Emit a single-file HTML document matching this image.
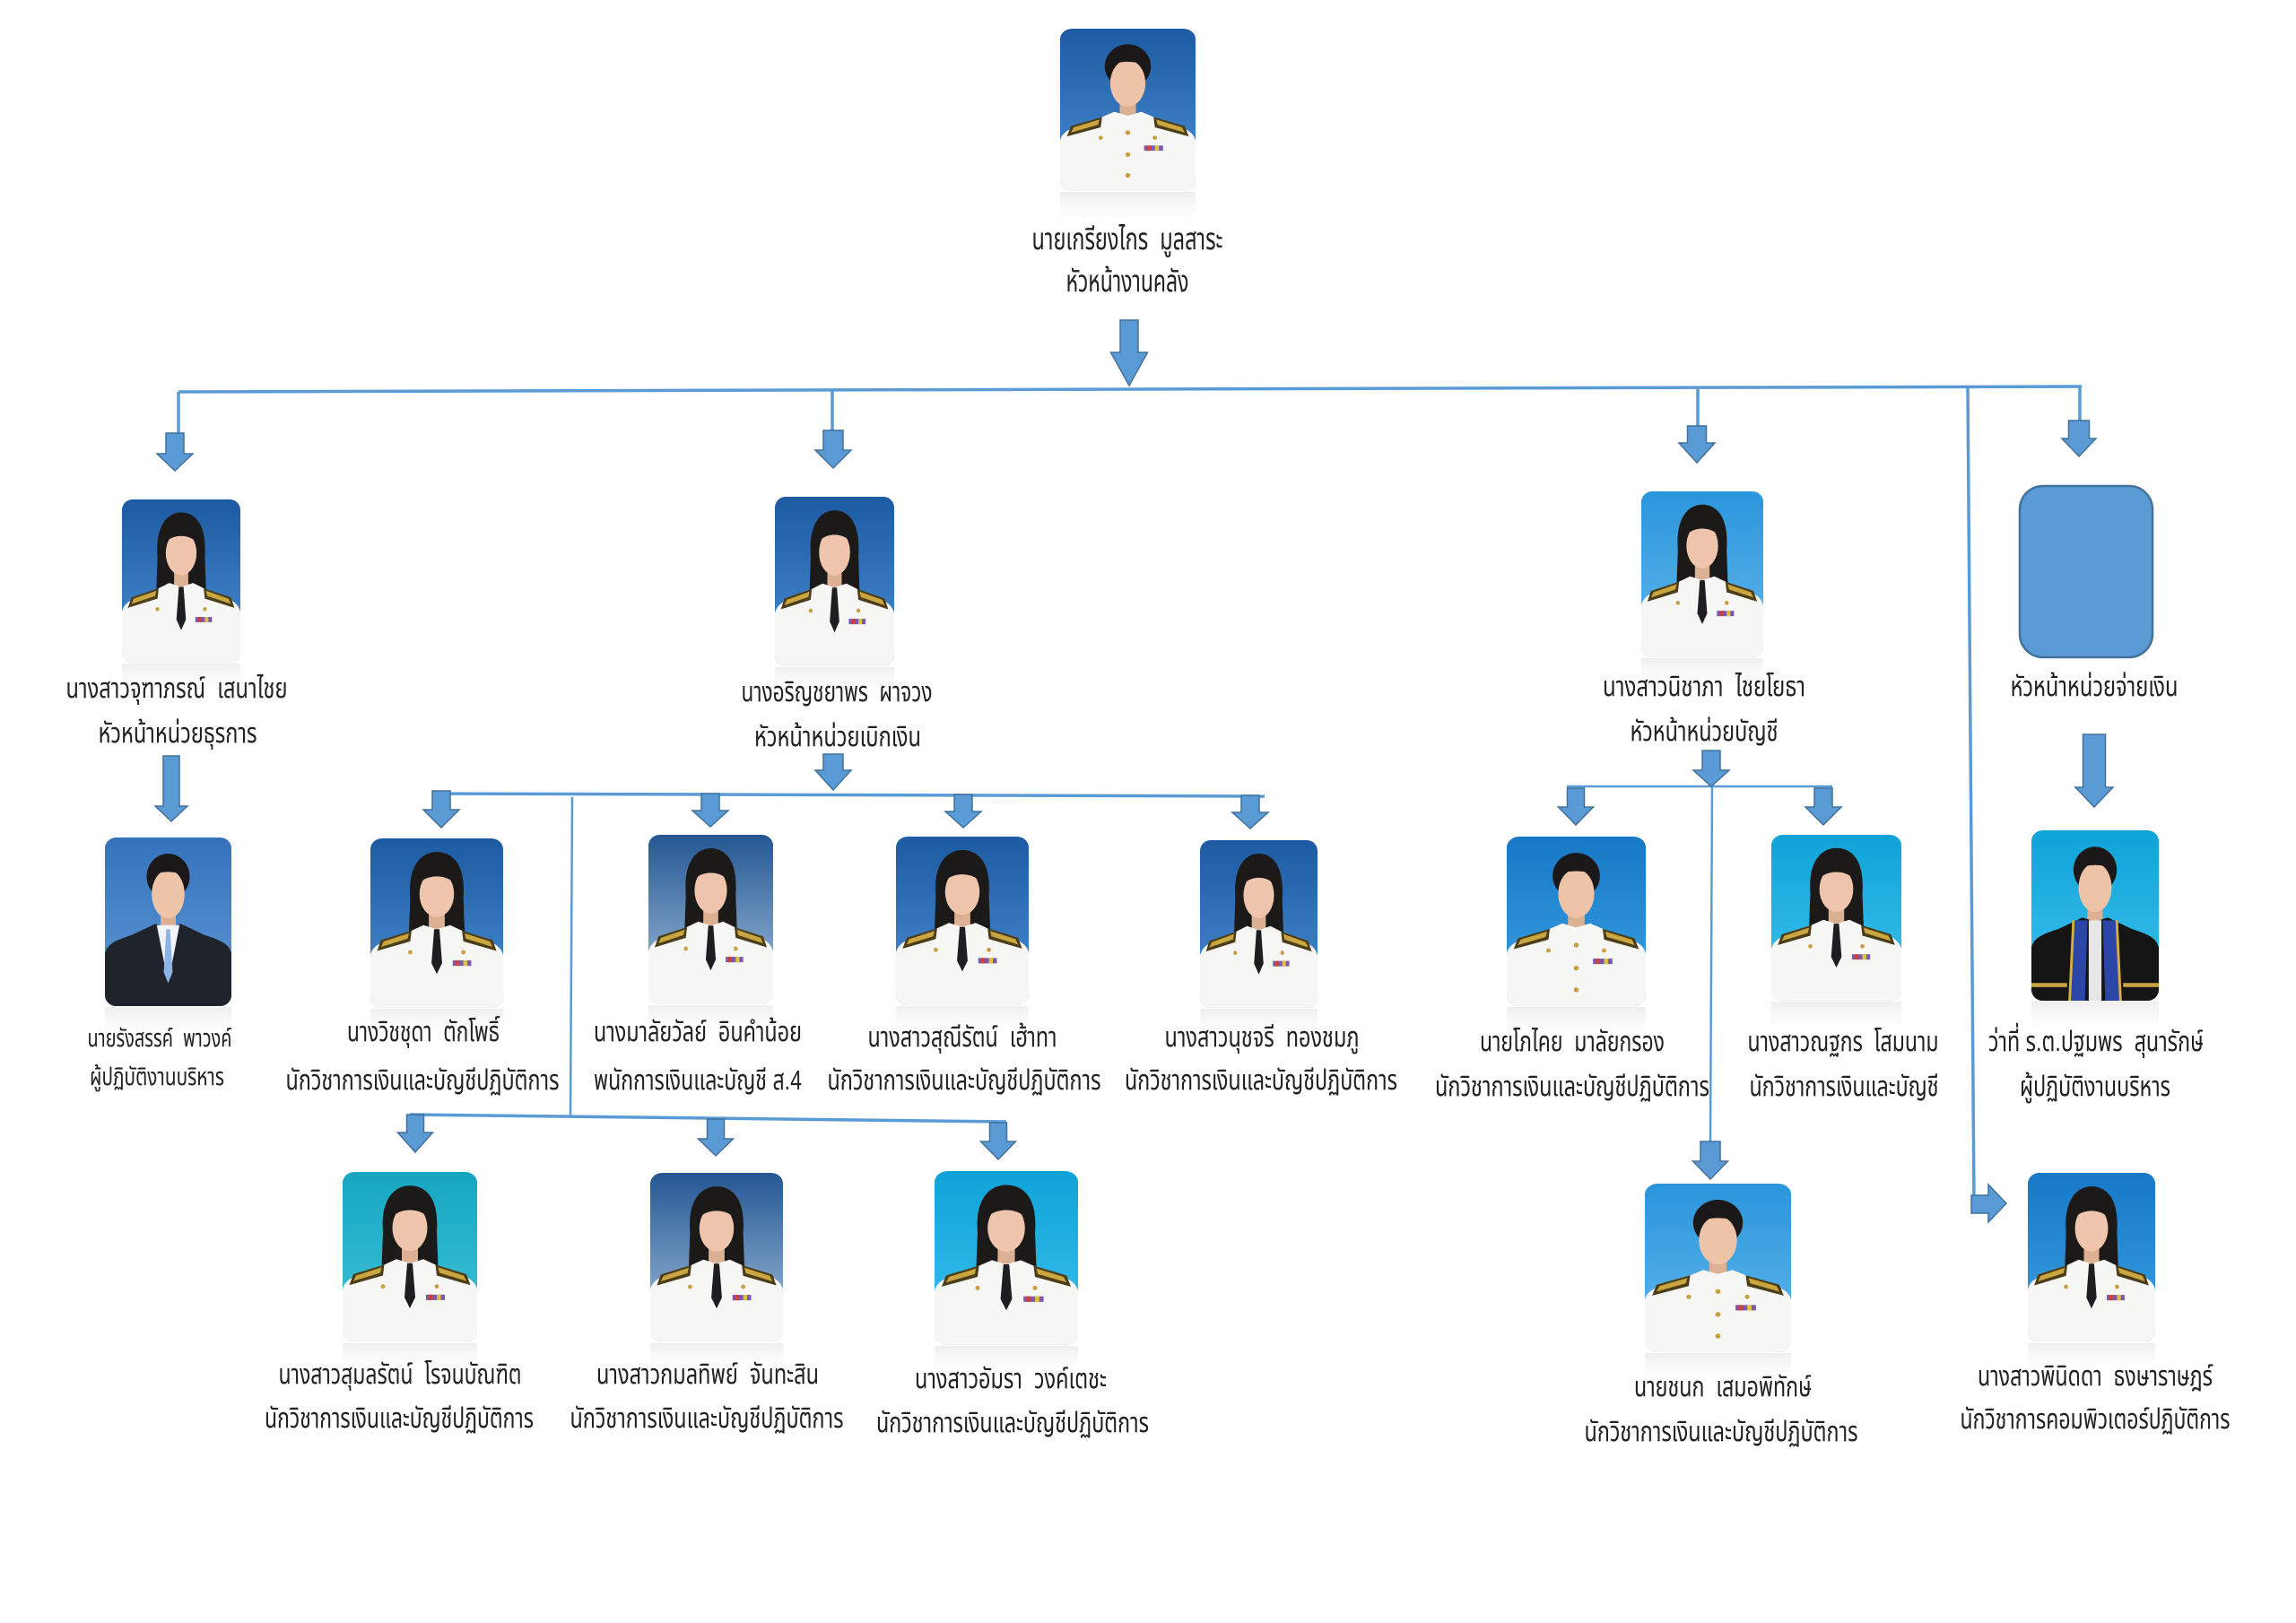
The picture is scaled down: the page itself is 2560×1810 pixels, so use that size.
<!DOCTYPE html>
<html lang="th">
<head>
<meta charset="utf-8">
<title>Org chart</title>
<style>
  html,body{margin:0;padding:0;background:#ffffff;}
  body{width:2560px;height:1810px;overflow:hidden;}
  svg{display:block;}
  .t{font-family:"Liberation Sans","Noto Sans Thai","Noto Sans Thai UI","Loma","Garuda","Tlwg Typo","DejaVu Sans",sans-serif;fill:#222;}
</style>
</head>
<body>
<svg width="2560" height="1810" viewBox="0 0 2560 1810" xmlns="http://www.w3.org/2000/svg" xmlns:xlink="http://www.w3.org/1999/xlink">
<defs>
  <clipPath id="pc"><rect x="0" y="0" width="100" height="125" rx="9" ry="8"/></clipPath>
  <linearGradient id="gA" x1="0" y1="0" x2="0" y2="1"><stop offset="0" stop-color="#1d5aa2"/><stop offset="1" stop-color="#4a8fd3"/></linearGradient>
  <linearGradient id="gB" x1="0" y1="0" x2="0" y2="1"><stop offset="0" stop-color="#2b95dc"/><stop offset="1" stop-color="#62b8ec"/></linearGradient>
  <linearGradient id="gC" x1="0" y1="0" x2="0" y2="1"><stop offset="0" stop-color="#10a3d8"/><stop offset="1" stop-color="#3cc2ee"/></linearGradient>
  <linearGradient id="gD" x1="0" y1="0" x2="0" y2="1"><stop offset="0" stop-color="#16a6c2"/><stop offset="1" stop-color="#40c4d8"/></linearGradient>
  <linearGradient id="gE" x1="0" y1="0" x2="0" y2="1"><stop offset="0" stop-color="#245792"/><stop offset="1" stop-color="#a8c4e0"/></linearGradient>
  <linearGradient id="gF" x1="0" y1="0" x2="0" y2="1"><stop offset="0" stop-color="#3672bc"/><stop offset="1" stop-color="#5e9ad6"/></linearGradient>
  <linearGradient id="gG" x1="0" y1="0" x2="0" y2="1"><stop offset="0" stop-color="#1878c6"/><stop offset="1" stop-color="#3aa2e4"/></linearGradient>
  <linearGradient id="refl" x1="0" y1="0" x2="0" y2="1"><stop offset="0" stop-color="#cfcfcf" stop-opacity="0.35"/><stop offset="1" stop-color="#ffffff" stop-opacity="0"/></linearGradient>

  <g id="headM">
    <rect x="44" y="52" width="12" height="18" fill="#dcb092"/>
    <ellipse cx="50" cy="29" rx="17" ry="17" fill="#1a1818"/>
    <ellipse cx="50" cy="42" rx="13" ry="18" fill="#eec4a8"/>
    <path d="M36,30 C38,18 62,18 64,30 C60,24 40,24 36,30 Z" fill="#1a1818"/>
  </g>
  <g id="headF">
    <path d="M30,44 C28,18 40,10 50,10 C61,10 72,18 70,44 L71,70 L29,70 Z" fill="#1c1919"/>
    <rect x="44" y="52" width="12" height="18" fill="#dcb092"/>
    <ellipse cx="50" cy="41" rx="13" ry="17" fill="#efc6ad"/>
    <path d="M36,34 C38,20 62,20 64,34 C58,26 42,26 36,34 Z" fill="#1c1919"/>
  </g>
  <g id="body">
    <path d="M0,125 L0,86 C2,78 10,76 22,72 L40,64 L50,67 L60,64 L78,72 C90,76 98,78 100,86 L100,125 Z" fill="#f6f6f4"/>
    <path d="M5,83 L8,75 L31,68 L30,76 Z" fill="#4b3d18"/>
    <path d="M95,83 L92,75 L69,68 L70,76 Z" fill="#4b3d18"/>
    <path d="M8,80 L10,76 L29,70 L28,74 Z" fill="#c9a640"/>
    <path d="M92,80 L90,76 L71,70 L72,74 Z" fill="#c9a640"/>
    <rect x="62" y="90" width="14" height="4" fill="#7a5ab0"/>
    <rect x="64" y="90" width="3" height="4" fill="#d04040"/>
    <rect x="70" y="90" width="3" height="4" fill="#e0c040"/>
    <circle cx="30" cy="84" r="1.6" fill="#c8a040"/>
    <circle cx="70" cy="84" r="1.6" fill="#c8a040"/>
  </g>
  <g id="tie"><path d="M48,67 L52,67 L54,92 L50,100 L46,92 Z" fill="#1e1e22"/></g>
  <g id="btn"><circle cx="50" cy="80" r="1.8" fill="#c8a040"/><circle cx="50" cy="97" r="1.8" fill="#c8a040"/><circle cx="50" cy="113" r="1.8" fill="#c8a040"/></g>
  <g id="suit">
    <path d="M0,125 L0,86 C2,78 10,76 22,72 L40,64 L50,67 L60,64 L78,72 C90,76 98,78 100,86 L100,125 Z" fill="#1f232b"/>
    <path d="M41,65 L59,65 L50,108 Z" fill="#f2f4f8"/>
    <path d="M48.5,68 L51.5,68 L53.5,100 L50,108 L46.5,100 Z" fill="#8cb4e6"/>
  </g>
  <g id="gown">
    <path d="M0,125 L0,86 C2,78 10,76 22,72 L40,64 L50,67 L60,64 L78,72 C90,76 98,78 100,86 L100,125 Z" fill="#151515"/>
    <rect x="45" y="66" width="10" height="59" fill="#e6e6e6"/>
    <path d="M34,66 L44,66 L42,125 L30,125 Z" fill="#2c46a8"/>
    <path d="M66,66 L56,66 L58,125 L70,125 Z" fill="#2c46a8"/>
    <path d="M32,66 L34,66 L31,125 L29,125 Z" fill="#d8b040"/>
    <path d="M68,66 L66,66 L69,125 L71,125 Z" fill="#d8b040"/>
    <rect x="0" y="112" width="28" height="3" fill="#c9a640"/>
    <rect x="72" y="112" width="28" height="3" fill="#c9a640"/>
  </g>
</defs>

<rect x="0" y="0" width="2560" height="1810" fill="#ffffff"/>

<!-- ============ CONNECTOR LINES ============ -->
<g stroke="#5B9BD5" stroke-width="3.5" fill="none" stroke-linecap="butt">
  <path d="M199,437 L2321,431"/>
  <path d="M199,437 L199,484"/>
  <path d="M928,435 L928,481"/>
  <path d="M1893,433 L1893,476"/>
  <path d="M2319,431 L2319,470"/>
  <path d="M2194,432 L2201,1343"/>
  <path d="M482,885 L1410,888"/>
  <path d="M457,1243 L1122,1251"/>
</g>
<g stroke="#5B9BD5" stroke-width="2.5" fill="none">
  <path d="M638,889 L636,1246"/>
  <path d="M1747,877 L2043,877"/>
  <path d="M1909,877 L1907,1274"/>
</g>

<!-- ============ ARROWS ============ -->
<g fill="#5B9BD5" stroke="#41719C" stroke-width="1.5" stroke-linejoin="miter">
  <polygon points="1249,357 1269,357 1269,393 1279.5,393 1259,430 1238.5,393 1249,393"/>
  <polygon points="185,483 205,483 205,506 215,506 195,525 175,506 185,506"/>
  <polygon points="918,480 940,480 940,502 949,502 929,522 909,502 918,502"/>
  <polygon points="1881.5,475 1902.5,475 1902.5,494 1912,494 1892,516 1872,494 1881.5,494"/>
  <polygon points="2306.5,469 2329.5,469 2329.5,489 2337,489 2318,509 2299,489 2306.5,489"/>
  <polygon points="182,843 200,843 200,899 209,899 191,916 173,899 182,899"/>
  <polygon points="918,841 940,841 940,859 949,859 929,881 909,859 918,859"/>
  <polygon points="482,882 502,882 502,903 512,903 492,923 472,903 482,903"/>
  <polygon points="782,885 802,885 802,904 812,904 792,922 772,904 782,904"/>
  <polygon points="1064,886 1084,886 1084,905 1094,905 1074,923 1054,905 1064,905"/>
  <polygon points="1384,887 1404,887 1404,906 1414,906 1394,924 1374,906 1384,906"/>
  <polygon points="453.5,1243 472.5,1243 472.5,1263 482.5,1263 463,1285 443.5,1263 453.5,1263"/>
  <polygon points="788.5,1248 807.5,1248 807.5,1270 817.5,1270 798,1289 778.5,1270 788.5,1270"/>
  <polygon points="1103.5,1252 1122.5,1252 1122.5,1273 1132.5,1273 1113,1293 1093.5,1273 1103.5,1273"/>
  <polygon points="1898,837 1918,837 1918,859 1928,859 1908,877 1888,859 1898,859"/>
  <polygon points="1747.5,879 1766.5,879 1766.5,900 1776.5,900 1757,920 1737.5,900 1747.5,900"/>
  <polygon points="2023,879 2043,879 2043,900 2053,900 2033,920 2013,900 2023,900"/>
  <polygon points="1896,1273 1918,1273 1918,1295 1926.5,1295 1907,1315 1887.5,1295 1896,1295"/>
  <polygon points="2322.5,819 2347.5,819 2347.5,878 2356,878 2335,900 2314,878 2322.5,878"/>
  <polygon points="2198,1333 2217,1333 2217,1321 2237,1342 2217,1363 2217,1353 2198,1353"/>
</g>

<!-- ============ REFLECTIONS ============ -->
<g fill="url(#refl)">
  <rect x="1182" y="214" width="151" height="40"/>
  <rect x="136" y="740" width="132" height="36"/>
  <rect x="864" y="744" width="133" height="36"/>
  <rect x="1830" y="734" width="136" height="36"/>
  <rect x="117" y="1123" width="141" height="40"/>
  <rect x="413" y="1125" width="148" height="36"/>
  <rect x="723" y="1121" width="139" height="36"/>
  <rect x="999" y="1122" width="148" height="36"/>
  <rect x="1338" y="1125" width="131" height="36"/>
  <rect x="1680" y="1123" width="155" height="40"/>
  <rect x="1975" y="1117" width="145" height="40"/>
  <rect x="2265" y="1117" width="142" height="40"/>
  <rect x="382" y="1498" width="150" height="36"/>
  <rect x="725" y="1498" width="148" height="36"/>
  <rect x="1042" y="1501" width="160" height="36"/>
  <rect x="1834" y="1509" width="163" height="40"/>
  <rect x="2261" y="1498" width="142" height="36"/>
</g>

<!-- ============ PHOTOS ============ -->
<g transform="translate(1182,32) scale(1.51,1.448)"><g clip-path="url(#pc)"><rect width="100" height="125" fill="url(#gA)"/><use href="#headM"/><use href="#body"/><use href="#btn"/></g></g>
<g transform="translate(136,557) scale(1.32,1.456)"><g clip-path="url(#pc)"><rect width="100" height="125" fill="url(#gA)"/><use href="#headF"/><use href="#body"/><use href="#tie"/></g></g>
<g transform="translate(864,554) scale(1.33,1.512)"><g clip-path="url(#pc)"><rect width="100" height="125" fill="url(#gA)"/><use href="#headF"/><use href="#body"/><use href="#tie"/></g></g>
<g transform="translate(1830,548) scale(1.36,1.48)"><g clip-path="url(#pc)"><rect width="100" height="125" fill="url(#gB)"/><use href="#headF"/><use href="#body"/><use href="#tie"/></g></g>
<rect x="2252" y="542" width="148" height="191" rx="26" ry="26" fill="#5B9BD5" stroke="#41719C" stroke-width="2.5"/>
<g transform="translate(117,934) scale(1.41,1.504)"><g clip-path="url(#pc)"><rect width="100" height="125" fill="url(#gF)"/><use href="#headM"/><use href="#suit"/></g></g>
<g transform="translate(413,935) scale(1.48,1.512)"><g clip-path="url(#pc)"><rect width="100" height="125" fill="url(#gA)"/><use href="#headF"/><use href="#body"/><use href="#tie"/></g></g>
<g transform="translate(723,931) scale(1.39,1.512)"><g clip-path="url(#pc)"><rect width="100" height="125" fill="url(#gE)"/><use href="#headF"/><use href="#body"/><use href="#tie"/></g></g>
<g transform="translate(999,933) scale(1.48,1.504)"><g clip-path="url(#pc)"><rect width="100" height="125" fill="url(#gA)"/><use href="#headF"/><use href="#body"/><use href="#tie"/></g></g>
<g transform="translate(1338,937) scale(1.31,1.496)"><g clip-path="url(#pc)"><rect width="100" height="125" fill="url(#gA)"/><use href="#headF"/><use href="#body"/><use href="#tie"/></g></g>
<g transform="translate(1680,933) scale(1.55,1.512)"><g clip-path="url(#pc)"><rect width="100" height="125" fill="url(#gG)"/><use href="#headM"/><use href="#body"/><use href="#btn"/></g></g>
<g transform="translate(1975,931) scale(1.45,1.48)"><g clip-path="url(#pc)"><rect width="100" height="125" fill="url(#gC)"/><use href="#headF"/><use href="#body"/><use href="#tie"/></g></g>
<g transform="translate(2265,926) scale(1.42,1.52)"><g clip-path="url(#pc)"><rect width="100" height="125" fill="url(#gC)"/><use href="#headM"/><use href="#gown"/></g></g>
<g transform="translate(382,1307) scale(1.5,1.52)"><g clip-path="url(#pc)"><rect width="100" height="125" fill="url(#gD)"/><use href="#headF"/><use href="#body"/><use href="#tie"/></g></g>
<g transform="translate(725,1308) scale(1.48,1.512)"><g clip-path="url(#pc)"><rect width="100" height="125" fill="url(#gE)"/><use href="#headF"/><use href="#body"/><use href="#tie"/></g></g>
<g transform="translate(1042,1306) scale(1.6,1.552)"><g clip-path="url(#pc)"><rect width="100" height="125" fill="url(#gC)"/><use href="#headF"/><use href="#body"/><use href="#tie"/></g></g>
<g transform="translate(1834,1320) scale(1.63,1.504)"><g clip-path="url(#pc)"><rect width="100" height="125" fill="url(#gB)"/><use href="#headM"/><use href="#body"/><use href="#btn"/></g></g>
<g transform="translate(2261,1308) scale(1.42,1.512)"><g clip-path="url(#pc)"><rect width="100" height="125" fill="url(#gG)"/><use href="#headF"/><use href="#body"/><use href="#tie"/></g></g>

<!-- ============ TEXT ============ -->
<g class="t" text-anchor="middle">
  <text x="1257" y="278" font-size="34" textLength="213" lengthAdjust="spacingAndGlyphs">นายเกรียงไกร &#160;มูลสาระ</text>
  <text x="1257" y="325" font-size="34" textLength="137" lengthAdjust="spacingAndGlyphs">หัวหน้างานคลัง</text>

  <text x="197" y="778" font-size="31" textLength="247" lengthAdjust="spacingAndGlyphs">นางสาวจุฑาภรณ์ &#160;เสนาไชย</text>
  <text x="198" y="828" font-size="31" textLength="177" lengthAdjust="spacingAndGlyphs">หัวหน้าหน่วยธุรการ</text>
  <text x="933" y="782" font-size="31" textLength="213" lengthAdjust="spacingAndGlyphs">นางอริญชยาพร &#160;ผาจวง</text>
  <text x="934" y="832" font-size="31" textLength="186" lengthAdjust="spacingAndGlyphs">หัวหน้าหน่วยเบิกเงิน</text>
  <text x="1900" y="776" font-size="31" textLength="226" lengthAdjust="spacingAndGlyphs">นางสาวนิชาภา &#160;ไชยโยธา</text>
  <text x="1900" y="826" font-size="31" textLength="165" lengthAdjust="spacingAndGlyphs">หัวหน้าหน่วยบัญชี</text>
  <text x="2335" y="776" font-size="31" textLength="187" lengthAdjust="spacingAndGlyphs">หัวหน้าหน่วยจ่ายเงิน</text>

  <text x="178" y="1167" font-size="28" textLength="161" lengthAdjust="spacingAndGlyphs">นายรังสรรค์ &#160;พาวงค์</text>
  <text x="175" y="1210" font-size="28" textLength="150" lengthAdjust="spacingAndGlyphs">ผู้ปฏิบัติงานบริหาร</text>
  <text x="472" y="1161" font-size="31" textLength="170" lengthAdjust="spacingAndGlyphs">นางวิชชุดา &#160;ตักโพธิ์</text>
  <text x="471" y="1215" font-size="31" textLength="305" lengthAdjust="spacingAndGlyphs">นักวิชาการเงินและบัญชีปฏิบัติการ</text>
  <text x="778" y="1161" font-size="31" textLength="232" lengthAdjust="spacingAndGlyphs">นางมาลัยวัลย์ &#160;อินคำน้อย</text>
  <text x="778" y="1215" font-size="31" textLength="232" lengthAdjust="spacingAndGlyphs">พนักการเงินและบัญชี ส.4</text>
  <text x="1073" y="1167" font-size="31" textLength="211" lengthAdjust="spacingAndGlyphs">นางสาวสุณีรัตน์ &#160;เฮ้าทา</text>
  <text x="1075" y="1215" font-size="31" textLength="305" lengthAdjust="spacingAndGlyphs">นักวิชาการเงินและบัญชีปฏิบัติการ</text>
  <text x="1407" y="1167" font-size="31" textLength="217" lengthAdjust="spacingAndGlyphs">นางสาวนุชจรี &#160;ทองชมภู</text>
  <text x="1406" y="1215" font-size="31" textLength="304" lengthAdjust="spacingAndGlyphs">นักวิชาการเงินและบัญชีปฏิบัติการ</text>
  <text x="1753" y="1172" font-size="31" textLength="206" lengthAdjust="spacingAndGlyphs">นายโภไคย &#160;มาลัยกรอง</text>
  <text x="1753" y="1222" font-size="31" textLength="306" lengthAdjust="spacingAndGlyphs">นักวิชาการเงินและบัญชีปฏิบัติการ</text>
  <text x="2055" y="1172" font-size="31" textLength="213" lengthAdjust="spacingAndGlyphs">นางสาวณฐกร &#160;โสมนาม</text>
  <text x="2056" y="1222" font-size="31" textLength="211" lengthAdjust="spacingAndGlyphs">นักวิชาการเงินและบัญชี</text>
  <text x="2337" y="1172" font-size="31" textLength="240" lengthAdjust="spacingAndGlyphs">ว่าที่ ร.ต.ปฐมพร &#160;สุนารักษ์</text>
  <text x="2336" y="1222" font-size="31" textLength="168" lengthAdjust="spacingAndGlyphs">ผู้ปฏิบัติงานบริหาร</text>

  <text x="446" y="1543" font-size="31" textLength="271" lengthAdjust="spacingAndGlyphs">นางสาวสุมลรัตน์ &#160;โรจนบัณฑิต</text>
  <text x="445" y="1592" font-size="31" textLength="300" lengthAdjust="spacingAndGlyphs">นักวิชาการเงินและบัญชีปฏิบัติการ</text>
  <text x="789" y="1543" font-size="31" textLength="248" lengthAdjust="spacingAndGlyphs">นางสาวกมลทิพย์ &#160;จันทะสิน</text>
  <text x="788" y="1592" font-size="31" textLength="305" lengthAdjust="spacingAndGlyphs">นักวิชาการเงินและบัญชีปฏิบัติการ</text>
  <text x="1127" y="1548" font-size="31" textLength="214" lengthAdjust="spacingAndGlyphs">นางสาวอัมรา &#160;วงค์เตชะ</text>
  <text x="1129" y="1597" font-size="31" textLength="304" lengthAdjust="spacingAndGlyphs">นักวิชาการเงินและบัญชีปฏิบัติการ</text>
  <text x="1921" y="1557" font-size="31" textLength="198" lengthAdjust="spacingAndGlyphs">นายชนก &#160;เสมอพิทักษ์</text>
  <text x="1919" y="1607" font-size="31" textLength="305" lengthAdjust="spacingAndGlyphs">นักวิชาการเงินและบัญชีปฏิบัติการ</text>
  <text x="2336" y="1545" font-size="31" textLength="262" lengthAdjust="spacingAndGlyphs">นางสาวพินิดดา &#160;ธงษาราษฎร์</text>
  <text x="2336" y="1593" font-size="31" textLength="301" lengthAdjust="spacingAndGlyphs">นักวิชาการคอมพิวเตอร์ปฏิบัติการ</text>
</g>
</svg>
</body>
</html>
